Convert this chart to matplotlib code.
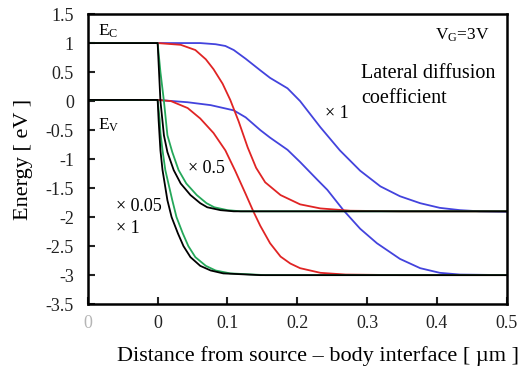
import matplotlib
matplotlib.use("Agg")
import matplotlib.pyplot as plt

plt.rcParams['font.family'] = ['Liberation Serif', 'DejaVu Serif']
plt.rcParams['mathtext.fontset'] = 'custom'
plt.rcParams['mathtext.rm'] = 'Liberation Serif'
plt.rcParams['mathtext.it'] = 'Liberation Serif'

# ---- data (x in µm, energy in eV) ----
black_ec_x = [-0.1, 0.0, 0.002, 0.004, 0.009, 0.014, 0.023, 0.033, 0.047, 0.061, 0.071, 0.090, 0.109, 0.15, 0.5]
black_ec_e = [1.0, 1.0, 0.5, 0.0, -0.59, -0.88, -1.19, -1.42, -1.62, -1.76, -1.83, -1.88, -1.9, -1.9, -1.9]
green_ec_x = [-0.1, 0.0, 0.004, 0.009, 0.014, 0.021, 0.030, 0.041, 0.056, 0.070, 0.081, 0.100, 0.119, 0.16, 0.5]
green_ec_e = [1.0, 1.0, 0.5, 0.0, -0.59, -0.88, -1.19, -1.42, -1.62, -1.76, -1.83, -1.88, -1.9, -1.9, -1.9]

black_ev_x = [-0.1, 0.0, 0.0014, 0.004, 0.007, 0.014, 0.020, 0.029, 0.037, 0.047, 0.061, 0.076, 0.094, 0.147, 0.5]
black_ev_e = [0.02, 0.02, -0.33, -0.85, -1.19, -1.71, -2.0, -2.28, -2.5, -2.69, -2.84, -2.92, -2.97, -3.0, -3.0]
green_ev_x = [-0.1, 0.0, 0.003, 0.004, 0.007, 0.011, 0.021, 0.027, 0.036, 0.044, 0.054, 0.069, 0.083, 0.104, 0.154, 0.5]
green_ev_e = [0.02, 0.02, -0.33, -0.55, -0.85, -1.19, -1.71, -2.0, -2.28, -2.5, -2.69, -2.84, -2.92, -2.97, -3.0, -3.0]

red_ec_x = [-0.1, 0.0, 0.033, 0.054, 0.069, 0.080, 0.093, 0.104, 0.116, 0.129, 0.141, 0.154, 0.176, 0.204, 0.233, 0.276, 0.347, 0.5]
red_ec_e = [1.0, 1.0, 0.97, 0.88, 0.72, 0.55, 0.3, 0.02, -0.35, -0.8, -1.15, -1.4, -1.62, -1.78, -1.85, -1.89, -1.9, -1.9]
red_ev_x = [-0.1, 0.0, 0.019, 0.043, 0.061, 0.080, 0.097, 0.111, 0.126, 0.137, 0.147, 0.161, 0.176, 0.190, 0.204, 0.233, 0.269, 0.347, 0.5]
red_ev_e = [0.02, 0.02, 0.0, -0.12, -0.3, -0.55, -0.85, -1.2, -1.6, -1.9, -2.15, -2.45, -2.68, -2.8, -2.88, -2.96, -2.99, -3.0, -3.0]

blue_ec_x = [-0.1, 0.0, 0.061, 0.083, 0.097, 0.109, 0.126, 0.147, 0.161, 0.186, 0.204, 0.233, 0.261, 0.290, 0.319, 0.347, 0.376, 0.404, 0.433, 0.461, 0.5]
blue_ec_e = [1.0, 1.0, 1.0, 0.98, 0.95, 0.88, 0.73, 0.53, 0.40, 0.22, 0.0, -0.45, -0.85, -1.2, -1.47, -1.64, -1.76, -1.84, -1.88, -1.9, -1.91]
blue_ev_x = [-0.1, 0.0, 0.043, 0.076, 0.109, 0.126, 0.147, 0.161, 0.186, 0.204, 0.229, 0.243, 0.266, 0.290, 0.314, 0.347, 0.376, 0.404, 0.433, 0.5]
blue_ev_e = [0.02, 0.02, -0.02, -0.07, -0.16, -0.28, -0.5, -0.63, -0.84, -1.05, -1.36, -1.53, -1.88, -2.2, -2.45, -2.72, -2.88, -2.96, -2.99, -3.0]

x_ticks = [-0.1, 0.0, 0.1, 0.2, 0.3, 0.4, 0.5]
x_tick_labels = ["0", "0", "0.1", "0.2", "0.3", "0.4", "0.5"]
y_ticks = [1.5, 1, 0.5, 0, -0.5, -1, -1.5, -2, -2.5, -3, -3.5]
y_tick_labels = ["1.5", "1", "0.5", "0", "-0.5", "-1", "-1.5", "-2", "-2.5", "-3", "-3.5"]

BLUE = "#4343dd"
RED = "#e02424"
GREEN = "#25a85a"
BLACK = "#000000"

fig = plt.figure(figsize=(5.29, 3.70), dpi=100)
ax = fig.add_axes([0.166, 0.178, 0.792, 0.784])

lw = 1.3
ax.plot(blue_ec_x, blue_ec_e, color=BLUE, lw=lw)
ax.plot(blue_ev_x, blue_ev_e, color=BLUE, lw=lw)
ax.plot(red_ec_x, red_ec_e, color=RED, lw=lw)
ax.plot(red_ev_x, red_ev_e, color=RED, lw=lw)
ax.plot(green_ec_x, green_ec_e, color=GREEN, lw=lw)
ax.plot(green_ev_x, green_ev_e, color=GREEN, lw=lw)
ax.plot(black_ec_x, black_ec_e, color=BLACK, lw=lw)
ax.plot(black_ev_x, black_ev_e, color=BLACK, lw=lw)

ax.set_xlim(-0.1, 0.5)
ax.set_ylim(-3.5, 1.5)
ax.set_yticks(y_ticks)
ax.set_yticklabels(y_tick_labels)
ax.set_xticks(x_ticks)
ax.set_xticklabels(x_tick_labels)
ax.tick_params(direction='in', length=5, width=1.5, labelsize=13, colors='#222222')
ax.tick_params(axis='y', pad=10)
ax.tick_params(axis='x', pad=8)
# the leftmost label appears faded in the reference
ax.get_xticklabels()[0].set_color('#b5b5b5')
for s in ax.spines.values():
    s.set_linewidth(1.8)

ax.set_ylabel("Energy [ eV ]", fontsize=16, labelpad=9)
ax.set_xlabel("Distance from source \u2013 body interface [ \u00b5m ]", fontsize=16)
ax.xaxis.set_label_coords(0.549, -0.145)

ax.text(-0.086, 1.06, r"E$_\mathrm{C}$", fontsize=12.5, ha='left', va='bottom')
ax.text(-0.086, -0.26, r"E$_\mathrm{V}$", fontsize=12.5, ha='left', va='top')
ax.text(0.397, 0.98, r"V$_\mathrm{G}$=3V", fontsize=12.5, ha='left', va='bottom')
ax.text(0.291, 0.47, "Lateral diffusion", fontsize=14.5, ha='left', va='center')
ax.text(0.291, 0.04, "coefficient", fontsize=14.5, ha='left', va='center')
ax.text(0.239, -0.22, "\u00d7 1", fontsize=13, ha='left', va='center')
ax.text(0.044, -1.17, "\u00d7 0.5", fontsize=13, ha='left', va='center')
ax.text(-0.059, -1.82, "\u00d7 0.05", fontsize=13, ha='left', va='center')
ax.text(-0.059, -2.2, "\u00d7 1", fontsize=13, ha='left', va='center')

fig.savefig("out.png", dpi=100)
